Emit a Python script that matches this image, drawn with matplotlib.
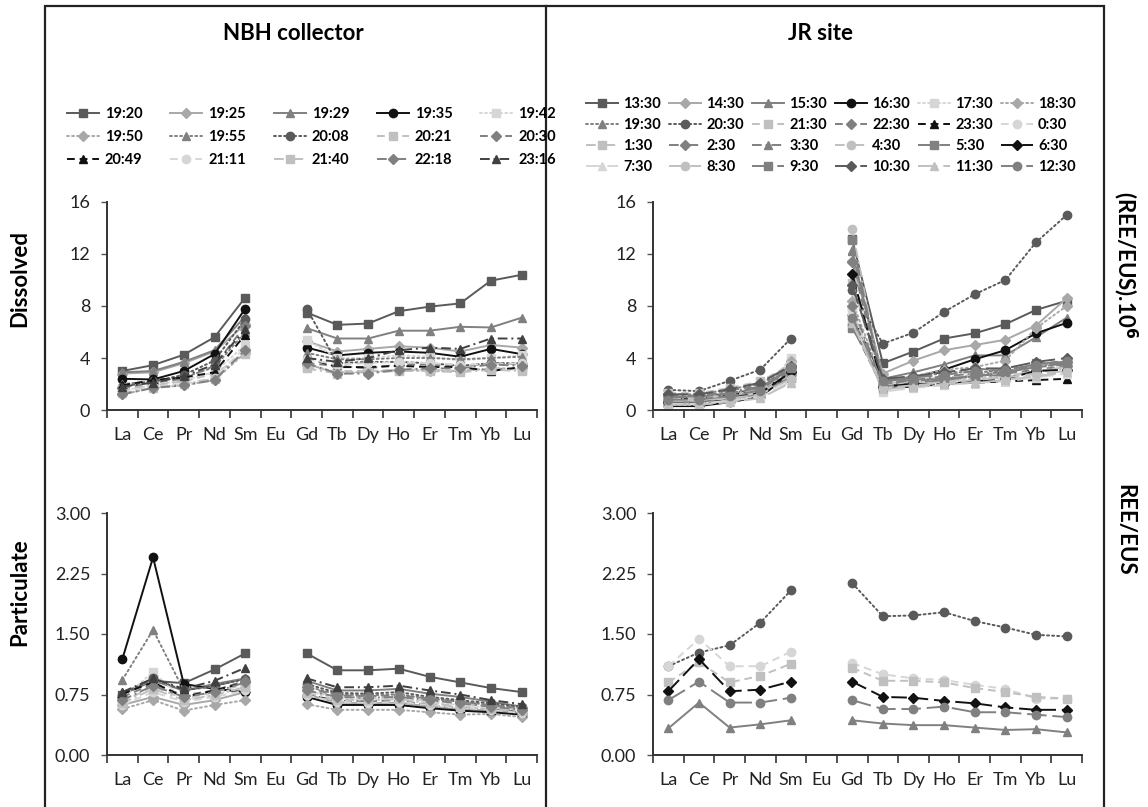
import numpy as np
import matplotlib
matplotlib.use('Agg')
import matplotlib.pyplot as plt
from matplotlib.lines import Line2D
from matplotlib.patches import Rectangle

plt.rcParams['font.family'] = ['Lato', 'DejaVu Sans']

nan = np.nan
elements = ['La', 'Ce', 'Pr', 'Nd', 'Sm', 'Eu', 'Gd', 'Tb', 'Dy', 'Ho', 'Er', 'Tm', 'Yb', 'Lu']

# ---------------- NBH collector ----------------
nbh_labels = ['19:20', '19:25', '19:29', '19:35', '19:42', '19:50', '19:55', '20:08',
              '20:21', '20:30', '20:49', '21:11', '21:40', '22:18', '23:16']

nbh_dissolved = [
    [3.0, 3.45, 4.25, 5.6, 8.65, nan, 7.5, 6.55, 6.65, 7.6, 7.95, 8.2, 9.95, 10.4],
    [2.8, 2.9, 3.6, 4.5, 6.6, nan, 5.3, 4.5, 4.7, 4.9, 4.8, 4.5, 5.0, 4.8],
    [2.9, 3.0, 3.7, 4.6, 7.2, nan, 6.3, 5.5, 5.5, 6.1, 6.1, 6.4, 6.35, 7.1],
    [2.4, 2.35, 3.0, 4.3, 7.8, nan, 4.8, 4.2, 4.4, 4.5, 4.4, 4.1, 4.7, 4.3],
    [1.5, 1.9, 2.3, 2.9, 5.0, nan, 5.4, 4.0, 4.0, 4.2, 4.1, 3.8, 4.0, 4.2],
    [1.2, 1.7, 1.9, 2.3, 4.4, nan, 3.5, 2.9, 2.9, 3.1, 3.0, 3.0, 3.2, 3.2],
    [2.0, 2.2, 2.5, 3.3, 6.0, nan, 4.4, 3.9, 3.9, 4.0, 4.0, 3.9, 4.0, 4.1],
    [1.8, 2.2, 2.7, 3.8, 7.0, nan, 7.8, 3.6, 3.7, 3.7, 3.6, 3.4, 3.6, 3.6],
    [1.6, 1.9, 2.2, 2.8, 4.3, nan, 3.3, 3.0, 3.0, 3.1, 3.1, 3.0, 3.2, 3.1],
    [1.7, 2.1, 2.4, 3.4, 6.5, nan, 3.6, 3.4, 3.2, 3.5, 3.5, 3.3, 3.6, 3.5],
    [1.9, 2.3, 2.5, 2.9, 5.8, nan, 4.0, 3.3, 3.3, 3.4, 3.3, 3.3, 3.0, 3.3],
    [1.4, 1.8, 2.0, 2.5, 4.8, nan, 3.9, 3.5, 3.6, 3.7, 3.6, 3.5, 3.5, 3.6],
    [1.3, 1.7, 2.0, 2.4, 4.5, nan, 3.2, 2.8, 2.9, 3.0, 3.0, 2.9, 3.1, 3.0],
    [1.2, 1.7, 1.9, 2.3, 4.6, nan, 3.6, 2.8, 2.8, 3.1, 3.2, 3.2, 3.5, 3.4],
    [1.8, 2.1, 2.6, 3.5, 6.2, nan, 4.0, 3.7, 4.0, 4.6, 4.8, 4.7, 5.5, 5.5],
]

nbh_particulate = [
    [0.75, 0.92, 0.89, 1.06, 1.26, nan, 1.26, 1.05, 1.05, 1.07, 0.97, 0.90, 0.83, 0.78],
    [0.62, 0.72, 0.62, 0.68, 0.78, nan, 0.75, 0.65, 0.64, 0.65, 0.60, 0.57, 0.55, 0.52],
    [0.78, 0.92, 0.80, 0.88, 0.95, nan, 0.92, 0.80, 0.80, 0.82, 0.76, 0.72, 0.66, 0.60],
    [1.19, 2.45, 0.88, 0.82, 0.78, nan, 0.72, 0.62, 0.62, 0.62, 0.58, 0.55, 0.53, 0.50],
    [0.70, 1.03, 0.68, 0.75, 0.85, nan, 0.80, 0.70, 0.68, 0.70, 0.65, 0.62, 0.58, 0.55],
    [0.57, 0.68, 0.55, 0.62, 0.68, nan, 0.63, 0.56, 0.56, 0.56, 0.53, 0.50, 0.51, 0.47],
    [0.93, 1.55, 0.80, 0.85, 0.95, nan, 0.85, 0.75, 0.74, 0.75, 0.70, 0.66, 0.62, 0.58],
    [0.75, 0.95, 0.80, 0.86, 0.94, nan, 0.88, 0.77, 0.76, 0.78, 0.72, 0.68, 0.64, 0.60],
    [0.66, 0.85, 0.70, 0.78, 0.88, nan, 0.82, 0.72, 0.70, 0.72, 0.67, 0.64, 0.60, 0.56],
    [0.72, 0.88, 0.74, 0.80, 0.92, nan, 0.84, 0.74, 0.73, 0.74, 0.70, 0.66, 0.62, 0.58],
    [0.76, 0.90, 0.72, 0.80, 0.90, nan, 0.75, 0.67, 0.66, 0.67, 0.62, 0.58, 0.56, 0.53],
    [0.62, 0.78, 0.66, 0.72, 0.80, nan, 0.74, 0.66, 0.65, 0.66, 0.62, 0.58, 0.56, 0.52],
    [0.64, 0.82, 0.68, 0.74, 0.84, nan, 0.77, 0.68, 0.68, 0.69, 0.64, 0.60, 0.57, 0.54],
    [0.68, 0.86, 0.72, 0.78, 0.90, nan, 0.80, 0.72, 0.71, 0.72, 0.68, 0.64, 0.60, 0.56],
    [0.78, 0.95, 0.82, 0.92, 1.08, nan, 0.95, 0.84, 0.84, 0.86, 0.80, 0.75, 0.68, 0.63],
]

# ---------------- JR site ----------------
jr_labels = ['13:30', '14:30', '15:30', '16:30', '17:30', '18:30', '19:30', '20:30',
             '21:30', '22:30', '23:30', '0:30', '1:30', '2:30', '3:30', '4:30',
             '5:30', '6:30', '7:30', '8:30', '9:30', '10:30', '11:30', '12:30']

jr_dissolved = [
    [1.0, 1.0, 1.3, 1.6, 3.5, nan, 13.15, 3.6, 4.5, 5.5, 5.9, 6.6, 7.7, 8.4],
    [0.8, 0.8, 1.1, 1.4, 3.3, nan, 11.5, 2.8, 3.8, 4.6, 5.0, 5.4, 6.5, 8.6],
    [0.6, 0.6, 0.9, 1.2, 3.0, nan, 12.2, 2.4, 2.9, 3.5, 4.2, 4.2, 5.6, 7.1],
    [0.3, 0.3, 0.6, 1.0, 2.8, nan, 7.3, 2.2, 2.5, 3.1, 3.9, 4.6, 5.9, 6.7],
    [0.4, 0.4, 0.7, 1.1, 4.0, nan, 7.6, 1.5, 1.9, 2.2, 2.4, 2.6, 3.0, 3.3],
    [0.5, 0.5, 0.8, 1.2, 3.8, nan, 8.4, 2.1, 2.6, 3.1, 3.3, 3.8, 6.3, 8.0],
    [1.2, 1.2, 1.6, 2.0, 3.4, nan, 10.0, 2.3, 2.5, 2.9, 2.9, 3.0, 3.4, 3.7],
    [1.55, 1.45, 2.25, 3.1, 5.5, nan, 9.2, 5.1, 5.95, 7.55, 8.9, 10.0, 12.9, 15.0],
    [1.3, 1.3, 1.7, 2.2, 3.5, nan, 6.8, 2.0, 2.3, 2.5, 2.7, 2.9, 3.4, 3.6],
    [1.2, 1.2, 1.5, 1.9, 3.2, nan, 11.4, 2.0, 2.2, 2.4, 2.6, 2.8, 3.1, 3.4],
    [0.9, 0.9, 1.2, 1.5, 2.8, nan, 6.5, 1.7, 1.8, 2.0, 2.1, 2.2, 2.3, 2.4],
    [1.0, 1.0, 1.3, 1.7, 3.0, nan, 7.8, 1.6, 1.9, 2.1, 2.3, 2.4, 2.7, 3.0],
    [0.8, 0.8, 1.0, 1.4, 2.6, nan, 9.8, 1.8, 2.0, 2.2, 2.4, 2.5, 2.9, 3.2],
    [1.1, 1.1, 1.4, 1.8, 3.0, nan, 8.0, 2.0, 2.3, 2.6, 2.8, 2.9, 3.3, 3.7],
    [1.0, 1.0, 1.3, 1.7, 2.9, nan, 12.3, 2.1, 2.6, 2.8, 3.2, 3.0, 3.3, 3.5],
    [0.9, 0.9, 1.2, 1.6, 2.7, nan, 13.9, 1.9, 2.1, 2.3, 2.5, 2.6, 3.0, 3.3],
    [0.7, 0.7, 1.0, 1.3, 2.5, nan, 13.1, 1.8, 2.1, 2.3, 2.6, 2.7, 3.6, 3.7],
    [0.6, 0.6, 0.9, 1.3, 2.9, nan, 10.5, 1.8, 2.0, 2.0, 2.2, 2.4, 3.0, 3.1],
    [0.5, 0.5, 0.7, 1.0, 2.2, nan, 7.0, 1.4, 1.7, 1.9, 2.1, 2.2, 2.5, 2.8],
    [0.7, 0.7, 0.9, 1.2, 2.4, nan, 6.6, 1.7, 1.9, 2.1, 2.3, 2.5, 2.8, 3.0],
    [1.0, 1.0, 1.3, 1.7, 3.2, nan, 6.3, 2.2, 2.3, 2.4, 2.6, 2.9, 3.3, 3.6],
    [1.2, 1.2, 1.6, 2.1, 3.4, nan, 9.6, 2.4, 2.6, 2.9, 3.2, 3.2, 3.7, 4.0],
    [0.4, 0.4, 0.6, 0.9, 2.1, nan, 6.7, 1.6, 1.8, 2.0, 2.1, 2.3, 2.6, 2.9],
    [0.8, 0.8, 1.1, 1.5, 3.3, nan, 7.1, 2.2, 2.5, 2.7, 3.0, 3.1, 3.5, 3.8],
]

jr_part_labels = ['20:30', '0:30', '21:30', '6:30', '12:30', '15:30']
jr_particulate = [
    [1.10, 1.27, 1.36, 1.64, 2.04, nan, 2.13, 1.72, 1.73, 1.77, 1.66, 1.58, 1.49, 1.47],
    [1.10, 1.44, 1.10, 1.10, 1.28, nan, 1.14, 1.00, 0.95, 0.93, 0.87, 0.82, 0.70, 0.70],
    [0.90, 1.15, 0.90, 0.98, 1.13, nan, 1.08, 0.92, 0.92, 0.90, 0.83, 0.78, 0.72, 0.70],
    [0.79, 1.19, 0.79, 0.81, 0.91, nan, 0.91, 0.72, 0.71, 0.67, 0.64, 0.59, 0.56, 0.56],
    [0.68, 0.91, 0.65, 0.65, 0.71, nan, 0.68, 0.57, 0.57, 0.60, 0.53, 0.53, 0.50, 0.47],
    [0.33, 0.65, 0.34, 0.38, 0.43, nan, 0.43, 0.39, 0.37, 0.37, 0.34, 0.31, 0.32, 0.28],
]

# ---------------- styles ----------------
SOLID = '-'
DOT = (0, (1, 1.6))
DASH = (0, (4, 2.5))
DASHDOT = (0, (5, 2, 1, 2))
LDASH = (0, (8, 3))
LDASHDOT = (0, (10, 3))

C_DARK = '#5a5a5a'
C_LIGHT = '#a8a8a8'
C_MID = '#808080'
C_BLACK = '#111111'
C_VLIGHT = '#d6d6d6'
C_LIGHT2 = '#c0c0c0'
C_DARK2 = '#404040'

nbh_styles = [
    (SOLID, 's', C_DARK), (SOLID, 'D', C_LIGHT), (SOLID, '^', C_MID), (SOLID, 'o', C_BLACK),
    (DOT, 's', C_VLIGHT), (DOT, 'D', C_LIGHT), (DOT, '^', C_MID), (DOT, 'o', C_DARK),
    (DASH, 's', C_LIGHT2), (DASH, 'D', C_MID), (DASH, '^', C_BLACK), (DASH, 'o', C_VLIGHT),
    (DASHDOT, 's', C_LIGHT2), (DASHDOT, 'D', C_MID), (DASHDOT, '^', C_DARK2),
]

jr_styles = [
    (SOLID, 's', C_DARK), (SOLID, 'D', C_LIGHT), (SOLID, '^', C_MID), (SOLID, 'o', C_BLACK),
    (DOT, 's', C_VLIGHT), (DOT, 'D', C_LIGHT), (DOT, '^', C_MID), (DOT, 'o', C_DARK),
    (DASH, 's', C_LIGHT2), (DASH, 'D', C_MID), (DASH, '^', C_BLACK), (DASH, 'o', C_VLIGHT),
    (DASHDOT, 's', C_LIGHT2), (DASHDOT, 'D', C_MID), (DASHDOT, '^', C_MID), (DASHDOT, 'o', C_LIGHT2),
    (LDASH, 's', C_MID), (LDASH, 'D', C_BLACK), (LDASH, '^', C_VLIGHT), (LDASH, 'o', C_LIGHT2),
    (LDASHDOT, 's', C_MID), (LDASHDOT, 'D', C_DARK), (LDASHDOT, '^', C_LIGHT2), (LDASHDOT, 'o', C_MID),
]
jr_style_map = dict(zip(jr_labels, jr_styles))

W, H = 1148, 807
fig = plt.figure(figsize=(W / 100, H / 100), dpi=100)


def px_axes(x0, y0, x1, y1):
    return fig.add_axes([x0 / W, 1 - y1 / H, (x1 - x0) / W, (y1 - y0) / H])


ax_tl = px_axes(107, 202, 537, 410)
ax_tr = px_axes(653, 202, 1082, 410)
ax_bl = px_axes(107, 513, 537, 755)
ax_br = px_axes(653, 513, 1082, 755)

x = np.arange(len(elements))


def draw(ax, data, labels, styles):
    lines = []
    for vals, lab, (ls, mk, col) in zip(data, labels, styles):
        ln, = ax.plot(x, vals, linestyle=ls, marker=mk, color=col, mfc=col, mec=col,
                      lw=1.4, ms=6 if mk != 'D' else 5.5, label=lab,
                      dash_capstyle='round' if ls == DOT else 'butt')
        lines.append(ln)
    return lines


nbh_lines = draw(ax_tl, nbh_dissolved, nbh_labels, nbh_styles)
draw(ax_bl, nbh_particulate, nbh_labels, nbh_styles)
jr_lines = draw(ax_tr, jr_dissolved, jr_labels, jr_styles)
draw(ax_br, jr_particulate, jr_part_labels, [jr_style_map[l] for l in jr_part_labels])

for ax in (ax_tl, ax_tr, ax_bl, ax_br):
    ax.set_xlim(-0.5, len(elements) - 0.5)
    ax.set_xticks(x)
    ax.set_xticklabels(elements, fontsize=13, color='#222222')
    ax.set_xticks(np.arange(len(elements) + 1) - 0.5, minor=True)
    ax.tick_params(axis='x', which='major', length=0, pad=12)
    ax.tick_params(axis='x', which='minor', length=6, width=1.2, direction='out', color='#333333')
    ax.tick_params(axis='y', length=4, width=1.0, color='#555555', labelsize=13,
                   labelcolor='#222222', pad=8)
    for s in ('top', 'right'):
        ax.spines[s].set_visible(False)
    for s in ('left', 'bottom'):
        ax.spines[s].set_linewidth(1.4)
        ax.spines[s].set_color('#333333')

for ax in (ax_tl, ax_tr):
    ax.set_ylim(0, 16)
    ax.set_yticks([0, 4, 8, 12, 16])
for ax in (ax_bl, ax_br):
    ax.set_ylim(0, 3)
    ax.set_yticks([0, 0.75, 1.5, 2.25, 3.0])
    ax.set_yticklabels(['0.00', '0.75', '1.50', '2.25', '3.00'])


def row_major(items, ncol):
    nrow = int(np.ceil(len(items) / ncol))
    out = []
    for c in range(ncol):
        for r in range(nrow):
            i = r * ncol + c
            if i < len(items):
                out.append(items[i])
    return out


leg1 = fig.legend(row_major(nbh_lines, 5), row_major(nbh_labels, 5), ncol=5,
                  loc='upper left', bbox_to_anchor=(67 / W, 1 - 107 / H), frameon=False,
                  prop={'size': 10.5, 'weight': 'bold'}, handlelength=2.2, handletextpad=0.4,
                  columnspacing=1.9, labelspacing=0.62, borderaxespad=0, borderpad=0)
leg2 = fig.legend(row_major(jr_lines, 6), row_major(jr_labels, 6), ncol=6,
                  loc='upper left', bbox_to_anchor=(586 / W, 1 - 97 / H), frameon=False,
                  prop={'size': 10.5, 'weight': 'bold'}, handlelength=2.2, handletextpad=0.35,
                  columnspacing=0.55, labelspacing=0.48, borderaxespad=0, borderpad=0)

fig.text(293 / W, 1 - 33 / H, 'NBH collector', ha='center', va='center', fontsize=16,
         weight='bold')
fig.text(820 / W, 1 - 33 / H, 'JR site', ha='center', va='center', fontsize=16, weight='bold')
fig.text(20 / W, 1 - 278 / H, 'Dissolved', ha='center', va='center', rotation=90,
         fontsize=16, weight='bold')
fig.text(20 / W, 1 - 592 / H, 'Particulate', ha='center', va='center', rotation=90,
         fontsize=16, weight='bold')
fig.text(1125 / W, 1 - 265 / H, '(REE/EUS).10$^{\\mathbf{6}}$', ha='center', va='center',
         rotation=270, fontsize=16, weight='bold')
fig.text(1125 / W, 1 - 530 / H, 'REE/EUS', ha='center', va='center', rotation=270,
         fontsize=16, weight='bold')

fig.add_artist(Rectangle((45 / W, -0.01), (1104 - 45) / W, 1.01 - 6 / H,
                         transform=fig.transFigure, fill=False, lw=1.6, ec='#222222'))
fig.add_artist(Line2D([546 / W, 546 / W], [0, 1 - 6 / H], transform=fig.transFigure,
                      lw=1.6, color='#222222'))

fig.savefig('out.png', dpi=100)
